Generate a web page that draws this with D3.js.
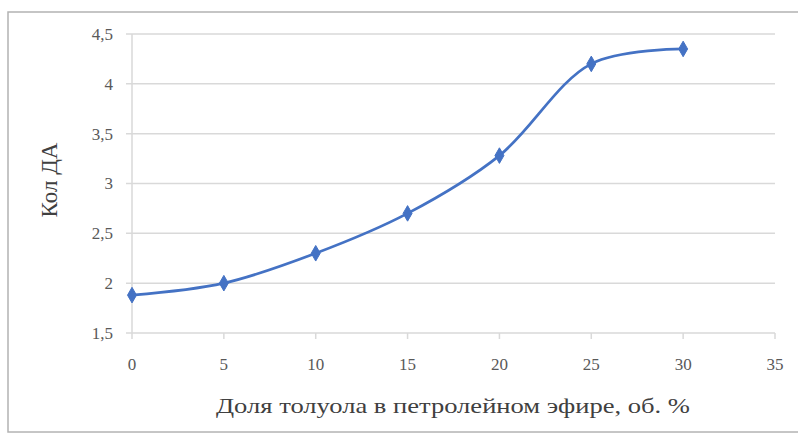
<!DOCTYPE html>
<html><head><meta charset="utf-8">
<script src="https://cdn.jsdelivr.net/npm/d3@7"></script>
<style>body{margin:0;background:#fff}svg{display:block}</style>
</head><body>
<svg id="c" width="798" height="435"></svg>
<script>
const xValues = [0, 5, 10, 15, 20, 25, 30];
const yValues = [1.88, 2.0, 2.3, 2.7, 3.28, 4.2, 4.35];
const xTicks = [0, 5, 10, 15, 20, 25, 30, 35];
const yTicks = [1.5, 2, 2.5, 3, 3.5, 4, 4.5];
const xTitle = "Доля толуола в петролейном эфире, об. %";
const yTitle = "Кол ДА";

const svg = d3.select("#c");
const font = "'Liberation Serif','Times New Roman',serif";
svg.append("rect").attr("x",8).attr("y",12).attr("width",800).attr("height",420)
  .attr("fill","#fff").attr("stroke","#b3b3b3").attr("stroke-width",1.5);

const x = d3.scaleLinear().domain([0,35]).range([132,775]);
const y = d3.scaleLinear().domain([1.5,4.5]).range([333,34]);
const fmt = d => String(d).replace(".", ",");

// gridlines
svg.append("g").selectAll("line").data(yTicks).join("line")
  .attr("x1",126).attr("x2",x(35)).attr("y1",d=>y(d)).attr("y2",d=>y(d))
  .attr("stroke","#d9d9d9").attr("stroke-width",1.5);
// y axis line
svg.append("line").attr("x1",x(0)).attr("x2",x(0)).attr("y1",y(4.5)).attr("y2",y(1.5))
  .attr("stroke","#d9d9d9").attr("stroke-width",1.5);
// x ticks
svg.append("g").selectAll("line").data(xTicks).join("line")
  .attr("x1",d=>x(d)).attr("x2",d=>x(d)).attr("y1",y(1.5)).attr("y2",y(1.5)+6)
  .attr("stroke","#d9d9d9").attr("stroke-width",1.5);

// tick labels
svg.append("g").selectAll("text").data(yTicks).join("text")
  .attr("x",113).attr("y",d=>y(d)).attr("dy","0.35em").attr("text-anchor","end")
  .attr("font-family",font).attr("font-size",17).attr("fill","#595959").text(fmt);
svg.append("g").selectAll("text").data(xTicks).join("text")
  .attr("x",d=>x(d)).attr("y",364).attr("dy","0.35em").attr("text-anchor","middle")
  .attr("font-family",font).attr("font-size",17).attr("fill","#595959").text(d=>d);

// titles
svg.append("text").attr("x",453).attr("y",406).attr("dy","0.35em").attr("text-anchor","middle")
  .attr("font-family",font).attr("font-size",21).attr("fill","#404040")
  .attr("textLength",474).attr("lengthAdjust","spacingAndGlyphs").text(xTitle);
svg.append("text").attr("transform","translate(49,180) rotate(-90)").attr("dy","0.35em")
  .attr("text-anchor","middle").attr("font-family",font).attr("font-size",23)
  .attr("fill","#404040").text(yTitle);

const pts = xValues.map((v,i)=>[v,yValues[i]]);
const line = d3.line().x(d=>x(d[0])).y(d=>y(d[1])).curve(d3.curveCatmullRom.alpha(0.5));
svg.append("path").datum(pts).attr("d",line).attr("fill","none")
  .attr("stroke","#4472c4").attr("stroke-width",2.75);
svg.append("g").selectAll("path").data(pts).join("path")
  .attr("transform",d=>`translate(${x(d[0])},${y(d[1])})`)
  .attr("d",d3.symbol(d3.symbolDiamond,70)).attr("fill","#4472c4").attr("stroke","#4472c4");
</script>
</body></html>
